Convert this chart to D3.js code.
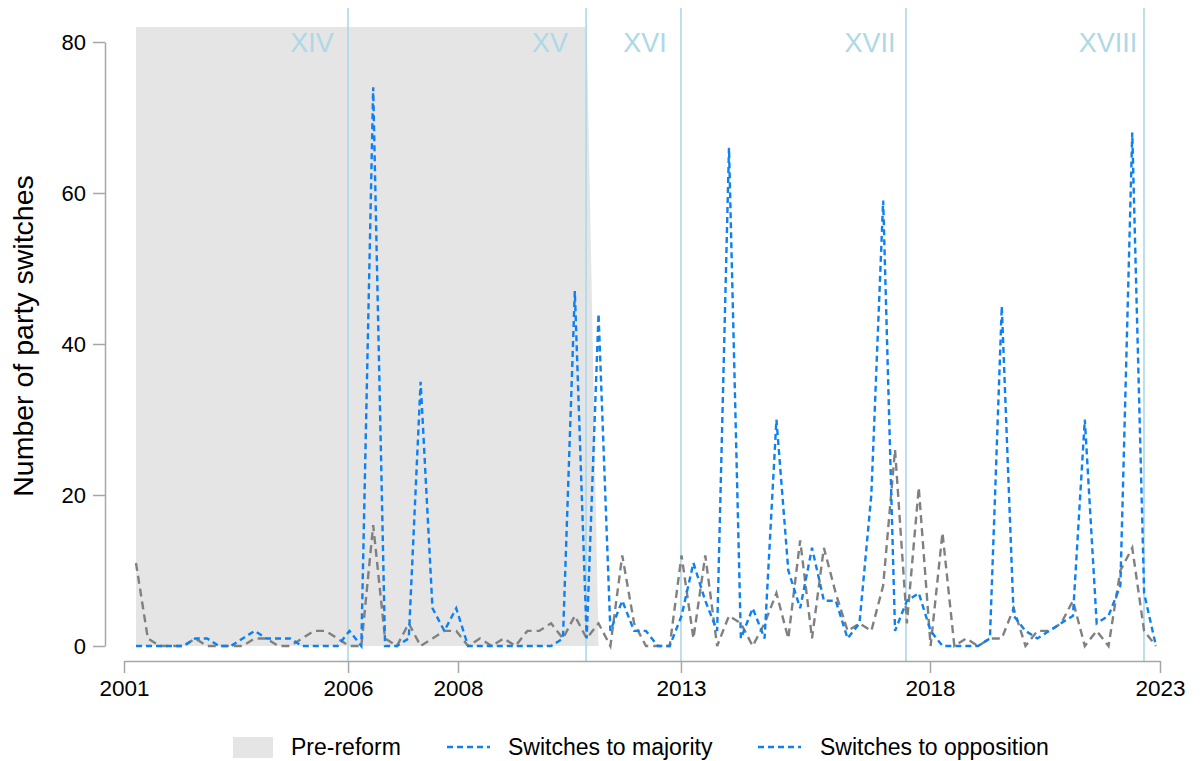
<!DOCTYPE html>
<html>
<head>
<meta charset="utf-8">
<script src="https://cdn.jsdelivr.net/npm/d3@7"></script>
<style>
  html, body { margin: 0; padding: 0; background: #ffffff; }
  svg { display: block; font-family: Arial, "Liberation Sans", sans-serif; }
</style>
</head>
<body>
<svg id="chart" width="1204" height="761"></svg>
<script>
// ---- data (quarter index 0..86) ----
const preReform = [82,82,82,82,82,82,82,82,82,82,82,82,82,82,82,82,82,82,82,82,
  82,82,82,82,82,82,82,82,82,82,82,82,82,82,82,82,82,82,82,0,
  0,0,0,0,0,0,0,0,0,0,0,0,0,0,0,0,0,0,0,0,
  0,0,0,0,0,0,0,0,0,0,0,0,0,0,0,0,0,0,0,0,
  0,0,0,0,0,0,0];
const toMajority = [0,0,0,0,0,1,1,0,0,1,2,1,1,1,0,0,0,0,2,0,
  74,0,0,1,35,5,2,5,0,0,0,0,0,0,0,0,1,47,1,44,
  2,6,2,2,0,0,4,11,6,2,66,1,5,1,30,10,5,13,6,6,
  1,3,20,59,2,6,7,2,0,0,0,0,1,45,4,2,1,2,3,4,
  30,3,4,8,68,7,0];
const toOpposition = [11,1,0,0,0,1,0,0,0,0,1,1,0,0,1,2,2,1,0,0,
  16,1,0,3,0,1,2,2,0,1,0,1,0,2,2,3,1,4,1,3,
  0,12,3,0,0,0,12,1,12,0,4,3,0,3,7,1,14,1,13,7,
  2,3,2,8,26,3,21,0,15,0,1,0,1,1,5,0,2,2,3,6,
  0,2,0,10,13,2,0];
const yTicks = [0, 20, 40, 60, 80];
const xTickLabels = ["2001", "2006", "2008", "2013", "2018", "2023"];
const xTickPositions = [-1.01, 17.88, 27.15, 45.95, 66.95, 86.34];
const legislatureLabels = ["XIV", "XV", "XVI", "XVII", "XVIII"];
const legislatureEnds = [17.88, 37.95, 45.95, 64.92, 84.99];
const seriesNames = ["Pre-reform", "Switches to majority", "Switches to opposition"];

// ---- layout ----
const svg = d3.select("#chart");
const x = d3.scaleLinear().domain([-1.01, 86.34]).range([124, 1160]);
const y = d3.scaleLinear().domain([0, 80]).range([646, 42]);
const idx = d3.range(toMajority.length);

const axisColor = "#a6a6a6";
const blue = "#0d80f2";
const grayLine = "#808080";
const shade = "#e5e5e5";
const legisColor = "#add8e6";

// pre-reform shaded area
const area = d3.area().x(i => x(i)).y0(y(0)).y1(i => y(preReform[i]));
svg.append("path").attr("d", area(idx.filter(i => i <= 39))).attr("fill", shade);

// legislature lines and labels
const lg = svg.append("g");
legislatureEnds.forEach((p, k) => {
  lg.append("line").attr("x1", x(p)).attr("x2", x(p)).attr("y1", 8).attr("y2", 661)
    .attr("stroke", legisColor).attr("stroke-width", 1.6);
  lg.append("text").attr("x", x(p) - 36).attr("y", 52).attr("text-anchor", "middle")
    .attr("font-size", 27).attr("fill", legisColor).text(legislatureLabels[k]);
});

// series lines
const line = arr => d3.line().x(i => x(i)).y(i => y(arr[i]))(idx);
svg.append("path").attr("d", line(toOpposition)).attr("fill", "none")
  .attr("stroke", grayLine).attr("stroke-width", 2.4).attr("stroke-dasharray", "8,5");
svg.append("path").attr("d", line(toMajority)).attr("fill", "none")
  .attr("stroke", blue).attr("stroke-width", 2.4).attr("stroke-dasharray", "6,4");

// y axis
const yAxis = svg.append("g").attr("transform", "translate(105,0)")
  .call(d3.axisLeft(y).tickValues(yTicks).tickSize(12).tickSizeOuter(0).tickPadding(7));
yAxis.selectAll("path,line").attr("stroke", axisColor).attr("stroke-width", 1.5);
yAxis.selectAll("text").attr("font-size", 22).attr("fill", "#000").attr("font-family", "Arial, 'Liberation Sans', sans-serif");

// x axis
const xAxis = svg.append("g").attr("transform", "translate(0,661)")
  .call(d3.axisBottom(x).tickValues(xTickPositions).tickFormat((d, i) => xTickLabels[i])
    .tickSize(12).tickSizeOuter(0).tickPadding(7));
xAxis.selectAll("path,line").attr("stroke", axisColor).attr("stroke-width", 1.5);
xAxis.selectAll("text").attr("font-size", 22.5).attr("fill", "#000").attr("font-family", "Arial, 'Liberation Sans', sans-serif");

// y title
svg.append("text").attr("transform", "translate(33,336) rotate(-90)")
  .attr("text-anchor", "middle").attr("font-size", 28.5).attr("fill", "#000")
  .text("Number of party switches");

// legend
const leg = svg.append("g");
leg.append("rect").attr("x", 233).attr("y", 737).attr("width", 40).attr("height", 21).attr("fill", shade);
leg.append("text").attr("x", 291).attr("y", 755).attr("font-size", 23).text(seriesNames[0]);
leg.append("line").attr("x1", 447).attr("x2", 490).attr("y1", 747).attr("y2", 747)
  .attr("stroke", blue).attr("stroke-width", 2.4).attr("stroke-dasharray", "6,4");
leg.append("text").attr("x", 508).attr("y", 755).attr("font-size", 23).text(seriesNames[1]);
leg.append("line").attr("x1", 758).attr("x2", 801).attr("y1", 747).attr("y2", 747)
  .attr("stroke", blue).attr("stroke-width", 2.4).attr("stroke-dasharray", "6,4");
leg.append("text").attr("x", 820).attr("y", 755).attr("font-size", 23).text(seriesNames[2]);
</script>
</body>
</html>
